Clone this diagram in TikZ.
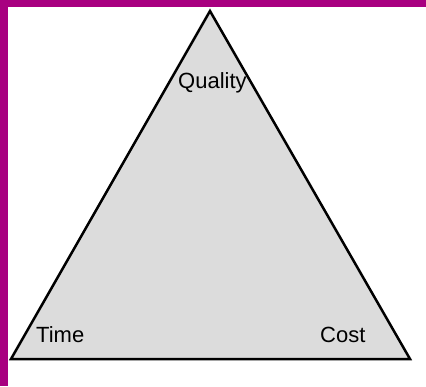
\documentclass[tikz,border=0pt]{standalone}
\usepackage{fontspec}
\setmainfont{Liberation Sans}
\definecolor{framepurple}{RGB}{168,0,128}
\definecolor{fillgray}{RGB}{220,220,220}

\begin{document}
\begin{tikzpicture}[x=1pt,y=-1pt,
    corner/.style={font=\fontsize{22}{26}\selectfont, inner sep=0pt, anchor=base west}]
    \useasboundingbox (0,0) rectangle (426,386);

    % frame
    \fill[framepurple] (0,0) rectangle (426,7);
    \fill[framepurple] (0,0) rectangle (8,386);

    % triangle
    \coordinate (top) at (210,11);
    \coordinate (left) at (11,359);
    \coordinate (right) at (410,359);
    \draw[fill=fillgray, line width=2.5pt, line join=miter] (top) -- (left) -- (right) -- cycle;

    % corner labels
    \node[corner] (quality) at (178,88) {Quality};
    \node[corner] (time) at (36,342) {Time};
    \node[corner] (cost) at (320,342) {Cost};
\end{tikzpicture}
\end{document}
